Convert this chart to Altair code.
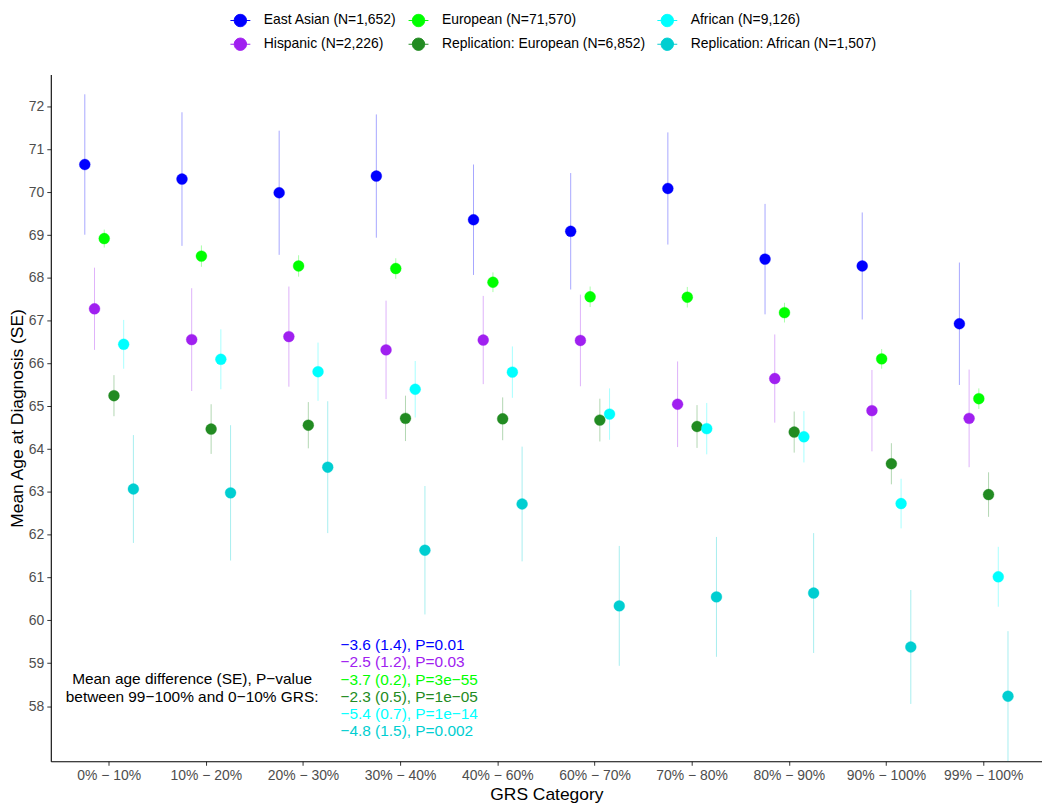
import altair as alt
import pandas as pd

# ---------------- data ----------------
categories = ["0% − 10%", "10% − 20%", "20% − 30%", "30% − 40%", "40% − 60%",
              "60% − 70%", "70% − 80%", "80% − 90%", "90% − 100%", "99% − 100%"]

groups = ["East Asian (N=1,652)", "Hispanic (N=2,226)", "European (N=71,570)",
          "Replication: European (N=6,852)", "African (N=9,126)",
          "Replication: African (N=1,507)"]
group_colors = ["#0000FF", "#A020F0", "#00FF00", "#228B22", "#00FFFF", "#00CED1"]

east_asian = [70.65, 70.31, 69.99, 70.38, 69.36, 69.09, 70.09, 68.44, 68.28, 66.93]
east_asian_se = [1.64, 1.56, 1.45, 1.44, 1.29, 1.36, 1.31, 1.29, 1.25, 1.43]
hispanic = [67.28, 66.56, 66.63, 66.32, 66.55, 66.54, 65.05, 65.65, 64.90, 64.72]
hispanic_se = [0.96, 1.20, 1.17, 1.15, 1.03, 1.07, 1.00, 1.03, 0.95, 1.14]
european = [68.92, 68.51, 68.28, 68.22, 67.90, 67.56, 67.55, 67.19, 66.11, 65.18]
european_se = [0.21, 0.25, 0.25, 0.24, 0.23, 0.24, 0.24, 0.23, 0.23, 0.24]
rep_european = [65.25, 64.47, 64.56, 64.72, 64.71, 64.68, 64.53, 64.40, 63.66, 62.94]
rep_european_se = [0.48, 0.58, 0.54, 0.53, 0.50, 0.50, 0.50, 0.48, 0.48, 0.52]
african = [66.45, 66.10, 65.81, 65.40, 65.80, 64.82, 64.48, 64.29, 62.73, 61.02]
african_se = [0.57, 0.70, 0.68, 0.66, 0.60, 0.60, 0.60, 0.60, 0.58, 0.70]
rep_african = [63.07, 62.98, 63.58, 61.64, 62.72, 60.34, 60.55, 60.64, 59.38, 58.23]
rep_african_se = [1.26, 1.58, 1.54, 1.50, 1.34, 1.40, 1.40, 1.40, 1.33, 1.52]

means = [east_asian, hispanic, european, rep_european, african, rep_african]
ses = [east_asian_se, hispanic_se, european_se, rep_european_se, african_se, rep_african_se]

annot_lines = ["−3.6 (1.4), P=0.01", "−2.5 (1.2), P=0.03", "−3.7 (0.2), P=3e−55",
               "−2.3 (0.5), P=1e−05", "−5.4 (0.7), P=1e−14", "−4.8 (1.5), P=0.002"]
annot_label = ["Mean age difference (SE), P−value", "between 99−100% and 0−10% GRS:"]

rows = []
for g, m_list, s_list in zip(groups, means, ses):
    for c, m, s in zip(categories, m_list, s_list):
        rows.append({"cat": c, "group": g, "mean": m, "lo": m - s, "hi": m + s})
df = pd.DataFrame(rows)

# ---------------- chart ----------------
FONT = "Liberation Sans"
YMIN, YMAX = 56.71, 72.75
W, H = 996, 690

x_enc = alt.X("cat:N", sort=categories,
              scale=alt.Scale(type="band", paddingInner=0.4, paddingOuter=0.3),
              axis=alt.Axis(title="GRS Category", labelAngle=0, labelFontSize=14,
                            labelColor="#4D4D4D", tickSize=4, tickColor="#333333",
                            domainColor="black", domainWidth=1.1, labelPadding=3,
                            titleFontSize=17.5, titleFontWeight="normal",
                            titleColor="black", titlePadding=3, grid=False))
xo_enc = alt.XOffset("group:N", sort=groups,
                     scale=alt.Scale(domain=groups, paddingInner=0, paddingOuter=0))
y_scale = alt.Scale(domain=[YMIN, YMAX], nice=False, zero=False)

base = alt.Chart(df)

rules = base.mark_rule(strokeWidth=1, opacity=0.35, clip=True).encode(
    x=x_enc, xOffset=xo_enc,
    y=alt.Y("lo:Q", scale=y_scale,
            axis=alt.Axis(title="Mean Age at Diagnosis (SE)", values=list(range(58, 73)),
                          labelFontSize=14, labelColor="#4D4D4D", tickSize=4,
                          tickColor="#333333", domainColor="black", domainWidth=1.1,
                          labelPadding=3, titleFontSize=17.5, titleFontWeight="normal",
                          titleColor="black", titlePadding=2, grid=False)),
    y2="hi:Q",
    color=alt.Color("group:N", scale=alt.Scale(domain=groups, range=group_colors), legend=None),
)

# legend: 3 columns x 2 rows, filled column by column (East Asian / Hispanic, ...)
sym_path = "M-1,0H1M0.62,0A0.62,0.62,0,1,1,-0.62,0A0.62,0.62,0,1,1,0.62,0Z"
leg = alt.Legend(title=None, orient="none", legendX=180, legendY=-65, columns=3,
                 symbolType=sym_path, symbolSize=400, symbolStrokeWidth=1,
                 labelFontSize=14, labelFont=FONT, labelColor="black", labelOffset=13,
                 labelLimit=400, columnPadding=9, rowPadding=5)
leg_scale = alt.Scale(domain=groups, range=group_colors)

points = base.mark_point(filled=True, shape="circle", size=120, opacity=1,
                         strokeWidth=1, strokeOpacity=0.35, fillOpacity=1).encode(
    x=x_enc, xOffset=xo_enc,
    y=alt.Y("mean:Q", scale=y_scale),
    fill=alt.Fill("group:N", scale=leg_scale, legend=leg),
    stroke=alt.Stroke("group:N", scale=leg_scale, legend=leg),
)

layers = [rules, points]

annot_y = [59.42, 59.03, 58.61, 58.22, 57.82, 57.41]
for txt, col, yv in zip(annot_lines, group_colors, annot_y):
    layers.append(
        alt.Chart(pd.DataFrame({"t": [txt]})).mark_text(
            align="left", baseline="middle", fontSize=15.5, font=FONT, color=col
        ).encode(text="t:N", x=alt.value(291), y=alt.datum(yv))
    )
for txt, yv in zip(annot_label, [58.63, 58.21]):
    layers.append(
        alt.Chart(pd.DataFrame({"t": [txt]})).mark_text(
            align="center", baseline="middle", fontSize=15.5, font=FONT, color="black"
        ).encode(text="t:N", x=alt.value(142), y=alt.datum(yv))
    )

chart = alt.layer(*layers).resolve_scale(color="independent").properties(
    width=W, height=H,
    padding={"left": 0, "top": 0, "right": 0, "bottom": 0},
).configure(font=FONT).configure_view(stroke=None)

chart.save("out.html", embed_options={"renderer": "svg", "actions": False})
